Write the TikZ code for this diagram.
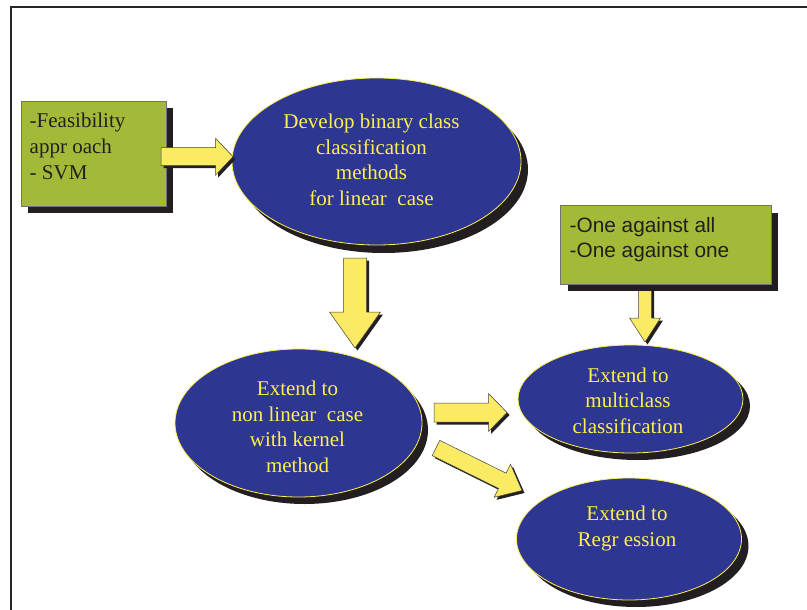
\documentclass[tikz,border=0pt]{standalone}
\usepackage{fontspec}
\setmainfont{Liberation Serif}
\setsansfont{Liberation Sans}
\usetikzlibrary{shapes.geometric,calc}

\definecolor{boxgreen}{RGB}{163,185,56}
\definecolor{ovalblue}{RGB}{45,54,145}
\definecolor{textyellow}{RGB}{255,238,80}
\definecolor{arrowyellow}{RGB}{250,234,100}
\definecolor{shade}{RGB}{35,31,32}
\definecolor{ink}{RGB}{35,31,32}

% block arrow from tail #1 to tip #2:
% #3 half shaft width, #4 half head width, #5 head length (all in pt)
\newcommand\blockarrow[5]{%
  \coordinate (ba-h) at ($(#2)!#5pt!(#1)$);
  \draw[fatarrow]
    ($(#1)!#3pt!90:(#2)$) -- ($(ba-h)!#3pt!-90:(#1)$) -- ($(ba-h)!#4pt!-90:(#1)$)
    -- (#2) -- ($(ba-h)!#4pt!90:(#1)$) -- ($(ba-h)!#3pt!90:(#1)$)
    -- ($(#1)!#3pt!-90:(#2)$) -- cycle;
}

\begin{document}
\begin{tikzpicture}[x=1pt,y=-1pt,
  castshadow/.style 2 args={preaction={fill=shade, draw=none,
      transform canvas={shift={(#1pt,-#2pt)}}}},
  frameline/.style={draw=black!85, line width=1.4pt},
  greenbox/.style={rectangle, fill=boxgreen, draw=black!55, line width=0.6pt,
      inner sep=0pt, castshadow={7}{7}},
  oval/.style={ellipse, fill=ovalblue, draw=textyellow, line width=0.8pt,
      inner sep=0pt},
  ovaltext/.style={text=textyellow, align=center, inner sep=0pt, anchor=north,
      font=\fontsize{21}{25.6}\selectfont},
  serifnote/.style={text=ink, align=left, inner sep=0pt, anchor=north west,
      font=\fontsize{21}{26}\selectfont},
  sansnote/.style={text=ink, align=left, inner sep=0pt, anchor=north west,
      font=\sffamily\fontsize{20.8}{25.4}\selectfont},
  fatarrow/.style={fill=arrowyellow, draw=black!75, line width=0.5pt,
      line join=miter, castshadow={2.5}{2.5}},
]
\useasboundingbox (0,0) rectangle (807,610);

% page frame
\draw[frameline] (11,610) -- (11,7) -- (807,7);

% ovals
\node[oval, castshadow={7}{8}, minimum width=289pt, minimum height=167pt]
  (binary) at (376.5,161.5) {};
\node[ovaltext] (binarytxt) at (371.5,113.7)
  {Develop binary class\\classification\\methods\\for linear\ \ case};

\node[oval, castshadow={6}{7}, minimum width=247pt, minimum height=148pt]
  (kernel) at (298.5,423) {};
\node[ovaltext] (kerneltxt) at (297.5,380.7)
  {Extend to\\non linear\ \ case\\with kernel\\method};

\node[oval, castshadow={7}{7}, minimum width=225pt, minimum height=108pt]
  (multi) at (630.5,399) {};
\node[ovaltext] (multitxt) at (628,367.4)
  {Extend to\\multiclass\\classification};

\node[oval, castshadow={7}{7}, minimum width=225pt, minimum height=122pt]
  (regr) at (629,539) {};
\node[ovaltext] (regrtxt) at (627,505.7)
  {Extend to\\Regr ession};

% arrow from the strategy box into the multiclass oval
\coordinate (s5) at (645,286);
\coordinate (t5) at (645,342);
\blockarrow{s5}{t5}{6.5}{15.5}{24}

% green note boxes
\node[greenbox, minimum width=145pt, minimum height=105pt]
  (feas) at (93.5,153.5) {};
\node[serifnote] (feastxt) at (29.5,112.7)
  {-Feasibility\\appr oach\\- SVM};

\node[greenbox, minimum width=210.5pt, minimum height=78.5pt]
  (strategy) at (665.8,245) {};
\node[sansnote] (strategytxt) at (569.5,217)
  {-One against all\\-One against one};

% flow arrows
\coordinate (s1) at (161,156.7);
\coordinate (t1) at (233,156.7);
\blockarrow{s1}{t1}{9}{18.5}{17.5}

\coordinate (s2) at (355,258);
\coordinate (t2) at (355,348);
\blockarrow{s2}{t2}{11.5}{25.5}{36}

\coordinate (s3) at (434,412.5);
\coordinate (t3) at (507,412.5);
\blockarrow{s3}{t3}{9.5}{19}{18.5}

\coordinate (s4) at (436,448);
\coordinate (t4) at (522,490.5);
\blockarrow{s4}{t4}{8.5}{18.5}{22}
\end{tikzpicture}
\end{document}
